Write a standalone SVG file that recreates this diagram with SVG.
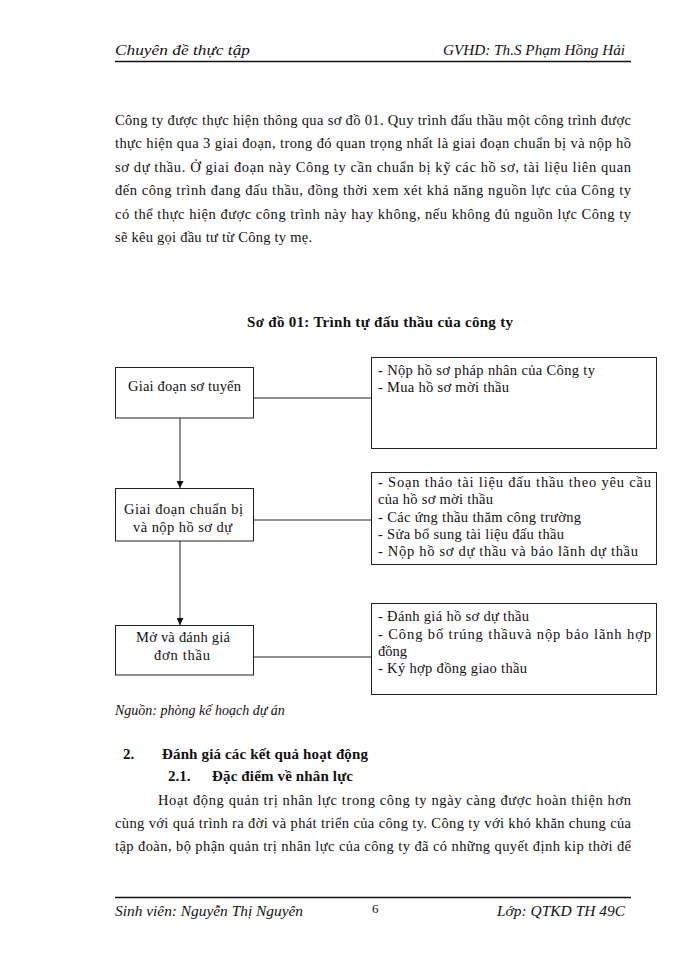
<svg xmlns="http://www.w3.org/2000/svg" width="700" height="960" viewBox="0 0 700 960">
<defs>
<style>
text{font-family:"Liberation Serif","Times New Roman",serif;font-size:14.5px;fill:#111}
.it{font-style:italic}
.b{font-weight:bold;font-size:15px}
.bx{fill:#fff;stroke:#222;stroke-width:1}
.ln{stroke:#222;stroke-width:1;fill:none}
.rule{stroke:#111;stroke-width:1.5}
.sm{font-size:14.5px}
.hd{font-size:15px}
</style>
<marker id="arr" viewBox="0 0 10 10" refX="10" refY="5" markerWidth="7" markerHeight="7" orient="auto" markerUnits="userSpaceOnUse">
<path d="M0,0 L10,5 L0,10 z" fill="#111"/>
</marker>
</defs>
<rect width="700" height="960" fill="#fff"/>

<g id="header">
<text class="it hd" x="115" y="55" textLength="135" lengthAdjust="spacingAndGlyphs">Chuyên đề thực tập</text>
<text class="it hd" x="443" y="55" textLength="182" lengthAdjust="spacingAndGlyphs">GVHD: Th.S Phạm Hồng Hải</text>
<line class="rule" x1="115" y1="61.5" x2="631" y2="61.5"/>
</g>

<g id="para1">
<text x="115" y="125" textLength="516" lengthAdjust="spacing">Công ty được thực hiện thông qua sơ đồ 01. Quy trình đấu thầu một công trình được</text>
<text x="115" y="148.4" textLength="516" lengthAdjust="spacing">thực hiện qua 3 giai đoạn, trong đó quan trọng nhất là giai đoạn chuẩn bị và nộp hồ</text>
<text x="115" y="171.8" textLength="516" lengthAdjust="spacing">sơ dự thầu. Ở giai đoạn này Công ty cần chuẩn bị kỹ các hồ sơ, tài liệu liên quan</text>
<text x="115" y="195.2" textLength="516" lengthAdjust="spacing">đến công trình đang đấu thầu, đồng thời xem xét khả năng nguồn lực của Công ty</text>
<text x="115" y="218.6" textLength="516" lengthAdjust="spacing">có thể thực hiện được công trình này hay không, nếu không đủ nguồn lực Công ty</text>
<text x="115" y="242" textLength="197" lengthAdjust="spacing">sẽ kêu gọi đầu tư từ Công ty mẹ.</text>
</g>

<g id="title">
<text class="b" x="247" y="327" textLength="266" lengthAdjust="spacing">Sơ đồ 01: Trình tự đấu thầu của công ty</text>
</g>

<g id="connectors">
<line class="ln" x1="254" y1="398" x2="371" y2="398"/>
<line class="ln" x1="254" y1="520" x2="371" y2="520"/>
<line class="ln" x1="254" y1="657" x2="371" y2="657"/>
<line class="ln" x1="180" y1="418" x2="180" y2="488" marker-end="url(#arr)"/>
<line class="ln" x1="180" y1="541" x2="180" y2="625" marker-end="url(#arr)"/>
</g>

<g id="stage1">
<rect class="bx" x="115.5" y="367.5" width="138" height="50.5"/>
<text class="sm" x="128" y="391" textLength="113" lengthAdjust="spacing">Giai đoạn sơ tuyển</text>
</g>
<g id="detail1">
<rect class="bx" x="371.5" y="357.5" width="285" height="91"/>
<text class="sm" x="378" y="375" textLength="217" lengthAdjust="spacing">- Nộp hồ sơ pháp nhân của Công ty</text>
<text class="sm" x="378" y="392" textLength="131" lengthAdjust="spacing">- Mua hồ sơ mời thầu</text>
</g>

<g id="stage2">
<rect class="bx" x="115.5" y="488.5" width="138" height="52.5"/>
<text class="sm" x="124" y="514" textLength="119" lengthAdjust="spacing">Giai đoạn chuẩn bị</text>
<text class="sm" x="133" y="532" textLength="99" lengthAdjust="spacing">và nộp hồ sơ dự</text>
</g>
<g id="detail2">
<rect class="bx" x="371.5" y="472.5" width="285" height="92"/>
<text class="sm" x="378" y="487" textLength="273" lengthAdjust="spacing">- Soạn thảo tài liệu đấu thầu theo yêu cầu</text>
<text class="sm" x="378" y="504" textLength="115" lengthAdjust="spacing">của hồ sơ mời thầu</text>
<text class="sm" x="378" y="522" textLength="203" lengthAdjust="spacing">- Các ứng thầu thăm công trường</text>
<text class="sm" x="378" y="539" textLength="186" lengthAdjust="spacing">- Sửa bổ sung tài liệu đấu thầu</text>
<text class="sm" x="378" y="556" textLength="260" lengthAdjust="spacing">- Nộp hồ sơ dự thầu và bảo lãnh dự thầu</text>
</g>

<g id="stage3">
<rect class="bx" x="115.5" y="625.5" width="138" height="49.5"/>
<text class="sm" x="136" y="642" textLength="94" lengthAdjust="spacing">Mở và đánh giá</text>
<text class="sm" x="154" y="660" textLength="56" lengthAdjust="spacing">đơn thầu</text>
</g>
<g id="detail3">
<rect class="bx" x="371.5" y="603.5" width="285" height="91"/>
<text class="sm" x="378" y="621" textLength="151" lengthAdjust="spacing">- Đánh giá hồ sơ dự thầu</text>
<text class="sm" x="378" y="639" textLength="273" lengthAdjust="spacing">- Công bố trúng thầuvà nộp bảo lãnh hợp</text>
<text class="sm" x="378" y="656">đồng</text>
<text class="sm" x="378" y="673" textLength="149" lengthAdjust="spacing">- Ký hợp đồng giao thầu</text>
</g>

<g id="source">
<text class="it" x="115" y="715" style="font-size:14px">Nguồn: phòng kế hoạch dự án</text>
</g>

<g id="section">
<text class="b" x="123" y="759">2.</text>
<text class="b" x="162" y="759" textLength="206" lengthAdjust="spacing">Đánh giá các kết quả hoạt động</text>
<text class="b" x="168" y="781">2.1.</text>
<text class="b" x="212" y="781" textLength="141" lengthAdjust="spacing">Đặc điểm về nhân lực</text>
<text x="158" y="805" textLength="473" lengthAdjust="spacing">Hoạt động quản trị nhân lực trong công ty ngày càng được hoàn thiện hơn</text>
<text x="115" y="828" textLength="516" lengthAdjust="spacing">cùng với quá trình ra đời và phát triển của công ty. Công ty với khó khăn chung của</text>
<text x="115" y="851" textLength="516" lengthAdjust="spacing">tập đoàn, bộ phận quản trị nhân lực của công ty đã có những quyết định kip thời để</text>
</g>

<g id="footer">
<line class="rule" x1="115" y1="897.5" x2="631" y2="897.5"/>
<text class="it hd" x="115" y="916" textLength="188" lengthAdjust="spacingAndGlyphs">Sinh viên: Nguyễn Thị Nguyên</text>
<text x="372" y="913" style="font-size:13px">6</text>
<text class="it hd" x="497" y="916" textLength="128" lengthAdjust="spacingAndGlyphs">Lớp: QTKD TH 49C</text>
</g>
</svg>
